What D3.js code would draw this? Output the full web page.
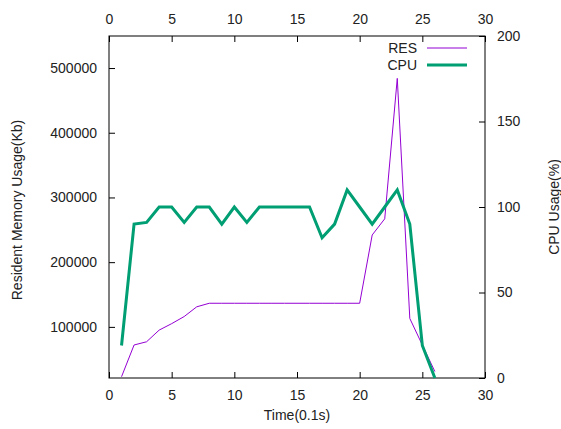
<!DOCTYPE html>
<html>
<head>
<meta charset="utf-8">
<script src="https://cdn.jsdelivr.net/npm/d3@7"></script>
<style>
body { margin: 0; background: #fff; }
text { font-family: "Liberation Sans", Arial, sans-serif; font-size: 14px; fill: #222; }
</style>
</head>
<body>
<div id="chart"></div>
<script>
// time steps (0.1s)
var time = [1, 2, 3, 4, 5, 6, 7, 8, 9, 10, 11, 12, 13, 14, 15, 16, 17, 18, 19, 20, 21, 22, 23, 24, 25, 26];
// resident memory in Kb
var res = [23000, 72000, 77000, 95000, 105000, 116000, 131000, 136500, 136500, 136500, 136500, 136500, 136500,
           136500, 136500, 136500, 136500, 136500, 136500, 136500, 242000, 267000, 484000, 113000, 72000, 31000];
// cpu usage in %
var cpu = [19, 90, 91, 100, 100, 91, 100, 100, 90, 100, 91, 100, 100, 100, 100, 100, 82, 90, 110, 100, 90, 100, 110, 90, 19, 0];

var xTicks = [0, 5, 10, 15, 20, 25, 30];
var yTicks = [100000, 200000, 300000, 400000, 500000];
var y2Ticks = [0, 50, 100, 150, 200];

var margin = {top: 36, left: 109, right: 76, bottom: 51},
    W = 561, H = 429,
    width = W - margin.left - margin.right,
    height = H - margin.top - margin.bottom;

var svg = d3.select("#chart").append("svg")
    .attr("width", W)
    .attr("height", H);
var g = svg.append("g")
    .attr("transform", "translate(" + margin.left + "," + margin.top + ")");

var x = d3.scaleLinear().domain([0, 30]).range([0, width]);
var y = d3.scaleLinear().domain([21000, 549500]).range([height, 0]);
var y2 = d3.scaleLinear().domain([0, 200]).range([height, 0]);

function styleAxis(sel) {
    sel.select(".domain").remove();
    sel.selectAll("line").attr("stroke", "#000");
    sel.selectAll("text").style("font-size", "14px").attr("fill", "#222");
}

// bottom / top / left / right axes, ticks inward
g.append("g").attr("transform", "translate(0," + height + ")")
    .call(d3.axisBottom(x).tickValues(xTicks).tickSizeInner(-6).tickPadding(12))
    .call(styleAxis);
g.append("g")
    .call(d3.axisTop(x).tickValues(xTicks).tickSizeInner(-6).tickPadding(12))
    .call(styleAxis);
g.append("g")
    .call(d3.axisLeft(y).tickValues(yTicks).tickFormat(d3.format("d")).tickSizeInner(-6).tickPadding(12))
    .call(styleAxis);
g.append("g").attr("transform", "translate(" + width + ",0)")
    .call(d3.axisRight(y2).tickValues(y2Ticks).tickSizeInner(-6).tickPadding(12))
    .call(styleAxis);

g.append("rect")
    .attr("width", width).attr("height", height)
    .attr("fill", "none").attr("stroke", "#000").attr("stroke-width", 1);

var resLine = d3.line()
    .x(function(d, i) { return x(time[i]); })
    .y(function(d) { return y(d); });
var cpuLine = d3.line()
    .x(function(d, i) { return x(time[i]); })
    .y(function(d) { return y2(d); });

g.append("path").datum(res)
    .attr("d", resLine)
    .attr("fill", "none").attr("stroke", "#9400d3").attr("stroke-width", 1);
g.append("path").datum(cpu)
    .attr("d", cpuLine)
    .attr("fill", "none").attr("stroke", "#009e73").attr("stroke-width", 3)
    .attr("stroke-linejoin", "miter");

// legend
var legend = [{name: "RES", color: "#9400d3", w: 1}, {name: "CPU", color: "#009e73", w: 3}];
var lg = svg.append("g").attr("transform", "translate(417,48)");
legend.forEach(function(l, i) {
    lg.append("text").attr("x", 0).attr("y", i * 17).attr("dy", "0.35em")
        .attr("text-anchor", "end").text(l.name);
    lg.append("line").attr("x1", 10).attr("x2", 50)
        .attr("y1", i * 17).attr("y2", i * 17)
        .attr("stroke", l.color).attr("stroke-width", l.w);
});

// axis labels
svg.append("text").attr("x", margin.left + width / 2).attr("y", 420)
    .attr("text-anchor", "middle").text("Time(0.1s)");
svg.append("text").attr("transform", "translate(22,210) rotate(-90)")
    .attr("text-anchor", "middle").text("Resident Memory Usage(Kb)");
svg.append("text").attr("transform", "translate(559,207) rotate(-90)")
    .attr("text-anchor", "middle").text("CPU Usage(%)");
</script>
</body>
</html>
